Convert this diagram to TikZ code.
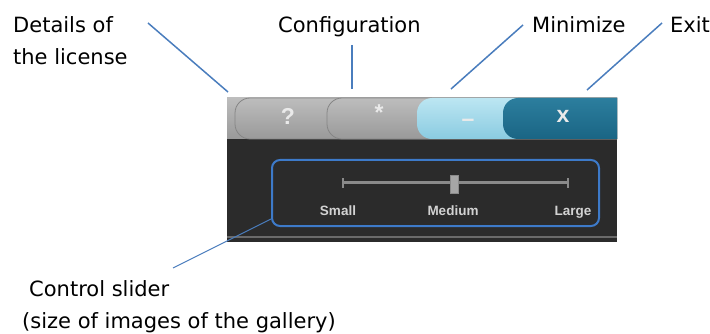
\documentclass[tikz,border=0pt]{standalone}
\usepackage{fontspec}
\setmainfont{DejaVu Sans}
\newfontfamily\uifont{Liberation Sans}
\usetikzlibrary{positioning}
\definecolor{lead}{HTML}{4A7DBD}
\definecolor{callc}{HTML}{3D7AC9}
\definecolor{panel}{HTML}{2B2B2B}
\definecolor{panelln}{HTML}{6A6A6A}
\definecolor{bartop}{HTML}{BDBDBD}
\definecolor{barbot}{HTML}{999999}
\definecolor{tabedge}{HTML}{858585}
\definecolor{ltop}{HTML}{BCE6F2}
\definecolor{lbot}{HTML}{8ACBE1}
\definecolor{dtop}{HTML}{2C7E9E}
\definecolor{dbot}{HTML}{1A6584}
\definecolor{glyphc}{HTML}{EAEAEA}
\definecolor{szc}{HTML}{D2D2D2}
\definecolor{track}{HTML}{8A8A8A}
\definecolor{knob}{HTML}{A6A6A6}
\tikzset{
  lbl/.style={font=\fontsize{21}{32}\selectfont,text=black,inner sep=0pt,align=left},
  leader/.style={draw=lead,line width=1.5pt},
  tabg/.style={draw=tabedge,line width=0.8pt,top color=bartop,bottom color=barbot},
  tabl/.style={top color=ltop,bottom color=lbot},
  tabd/.style={top color=dtop,bottom color=dbot},
  glyph/.style={font=\uifont\bfseries\fontsize{23}{23}\selectfont,text=glyphc,inner sep=0pt},
  sz/.style={font=\uifont\bfseries\fontsize{13.5}{13.5}\selectfont,text=szc,inner sep=0pt,anchor=base},
  callout/.style={draw=callc,line width=2pt,rounded corners=8pt,minimum width=327pt,minimum height=66pt,inner sep=0pt},
}
\begin{document}
\begin{tikzpicture}[x=1pt,y=1pt]
  \useasboundingbox (0,0) rectangle (710,-334);
  % screenshot: title bar and panel
  \fill[panel] (227,-138) rectangle (617,-242);
  \draw[panelln,line width=1.2pt] (227,-237) -- (617,-237);
  \shade[top color=bartop,bottom color=barbot] (227,-98) rectangle (617,-139);
  \draw[tabg,rounded corners=15pt] (617,-98) -- (235,-98) -- (235,-139) [sharp corners] -- (617,-139);
  \shade[tabg,rounded corners=15pt] (617,-98) -- (327,-98) -- (327,-139) [sharp corners] -- (617,-139) -- cycle;
  \shade[tabl,rounded corners=15pt] (617,-98) -- (417,-98) -- (417,-139) [sharp corners] -- (617,-139) -- cycle;
  \shade[tabd,rounded corners=15pt] (617,-98) -- (503,-98) -- (503,-139) [sharp corners] -- (617,-139) -- cycle;
  \node[glyph] (qbtn) at (288,-116) {?};
  \node[glyph] (cbtn) at (379,-113) {*};
  \node[glyph] (mbtn) at (468,-123) {\textendash};
  \node[glyph] (xbtn) at (563,-116) {x};
  % slider
  \node[callout] (sld) at (435.5,-193) {};
  \coordinate (tl) at (343,-183);
  \coordinate (tr) at (568,-183);
  \draw[track,line width=3pt] (tl) -- (tr);
  \draw[track,line width=1.5pt] ([yshift=-5pt]tl) -- ([yshift=5pt]tl);
  \draw[track,line width=1.5pt] ([yshift=-5pt]tr) -- ([yshift=5pt]tr);
  \node[draw=track,fill=knob,minimum width=8pt,minimum height=18pt,inner sep=0pt] (thumb) at (454,-184) {};
  \node[sz] (small) at (338,-215) {Small};
  \node[sz] (medium) at (453,-215) {Medium};
  \node[sz] (large) at (573,-215) {Large};
  % labels
  \node[lbl,anchor=base west] (lic) at (13,-65) {Details of\\the license};
  \node[lbl,anchor=base west] (cfg) at (278,-33) {Configuration};
  \node[lbl,anchor=base west] (mini) at (532,-33) {Minimize};
  \node[lbl,anchor=base west] (exit) at (670,-33) {Exit};
  \node[lbl,anchor=base west] (ctl) at (22,-328) {\hspace{7pt}Control slider\\(size of images of the gallery)};
  % leaders
  \coordinate (licA) at (148,-23);
  \coordinate (licB) at (228,-92);
  \coordinate (cfgA) at (352,-45);
  \coordinate (cfgB) at (352,-89);
  \coordinate (minA) at (523,-25);
  \coordinate (minB) at (451,-89);
  \coordinate (extA) at (662,-23);
  \coordinate (extB) at (587,-90);
  \coordinate (ctlA) at (173,-268);
  \draw[leader] (licA) -- (licB);
  \draw[leader,line width=2.5pt] (cfgA) -- (cfgB);
  \draw[leader] (minA) -- (minB);
  \draw[leader] (extA) -- (extB);
  \draw[leader,line width=1pt] (ctlA) -- ([yshift=8pt]sld.south west);
\end{tikzpicture}
\end{document}
